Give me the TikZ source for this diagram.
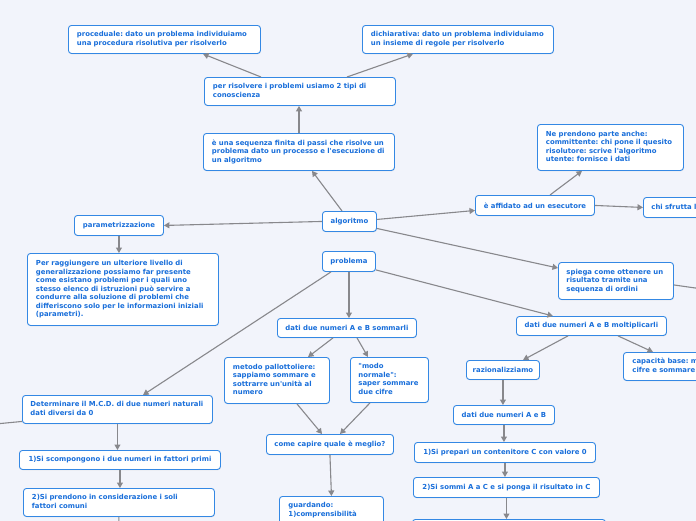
\documentclass[tikz,border=0pt]{standalone}
\usepackage{fontspec}
\newfontfamily\boxfont{DejaVu Sans}
\usetikzlibrary{arrows.meta,shadows}
\definecolor{bgc}{RGB}{242,244,251}
\definecolor{bordc}{RGB}{52,136,228}
\definecolor{txtc}{RGB}{24,110,218}
\definecolor{linec}{RGB}{136,136,140}
\newcommand\boxlines[1]{\begin{tabular}{@{}l@{}}#1\end{tabular}}
\tikzset{
  boxbase/.style={draw=bordc, fill=white, rounded corners=3pt, line width=0.9pt,
    text=txtc, font=\fontsize{6.9}{8.5}\selectfont\boxfont\bfseries\frenchspacing,
    drop shadow={opacity=0.15, shadow xshift=0.5pt, shadow yshift=-0.8pt},
    anchor=north west},
  lbox/.style={boxbase, inner xsep=8.5pt, inner ysep=2pt, align=left},
  cbox/.style={boxbase, inner xsep=3pt, inner ysep=2pt, align=center, minimum height=20pt},
  conn/.style={draw=linec, line width=1.1pt, -{Triangle[length=5.5pt,width=6pt]}}
}
\begin{document}
\begin{tikzpicture}[x=1pt,y=-1pt]
\useasboundingbox (0,0) rectangle (696,520);
\clip (0,0) rectangle (696,520);
\fill[bgc] (-5,-5) rectangle (701,525);

% nodes
\node[lbox, text width=175pt, minimum height=28pt] (proc) at (68,25)
  {\boxlines{proceduale: dato un problema individuiamo\\una procedura risolutiva per risolverlo}};
\node[lbox, text width=174pt, minimum height=28pt] (dich) at (362,25)
  {\boxlines{dichiarativa: dato un problema individuiamo\\un insieme di regole per risolverlo}};
\node[lbox, text width=174pt, minimum height=28pt] (perr) at (204,77)
  {\boxlines{per risolvere i problemi usiamo 2 tipi di\\conoscienza}};
\node[lbox, text width=174pt, minimum height=37pt] (seq) at (203,133)
  {\boxlines{è una sequenza finita di passi che risolve un\\problema dato un processo e l'esecuzione di\\un algoritmo}};
\node[cbox, minimum width=54pt] (alg) at (322,211) {algoritmo};
\node[cbox, minimum width=89pt] (param) at (74,215) {parametrizzazione};
\node[lbox, text width=174pt, minimum height=72pt] (perrag) at (27,253)
  {\boxlines{Per raggiungere un ulteriore livello di\\generalizzazione possiamo far presente\\come esistano problemi per i quali uno\\stesso elenco di istruzioni può servire a\\condurre alla soluzione di problemi che\\differiscono solo per le informazioni iniziali\\(parametri).}};
\node[lbox, text width=129pt, minimum height=46pt] (nepr) at (537,124)
  {\boxlines{Ne prendono parte anche:\\committente: chi pone il quesito\\risolutore: scrive l'algoritmo\\utente: fornisce i dati}};
\node[cbox, minimum width=119pt] (affid) at (475,195) {è affidato ad un esecutore};
\node[lbox, inner xsep=8pt, text width=120pt, minimum height=20pt] (chisfr) at (643,197)
  {\boxlines{chi sfrutta l}};
\node[cbox, minimum width=53pt] (probl) at (322,251) {problema};
\node[lbox, inner xsep=8pt, text width=99pt, minimum height=37pt] (spiega) at (558,262)
  {\boxlines{spiega come ottenere un\\risultato tramite una\\sequenza di ordini}};
\node[cbox, minimum width=139pt, minimum height=19pt] (somm) at (277,318) {dati due numeri A e B sommarli};
\node[cbox, minimum width=150pt, minimum height=19pt] (molt) at (516,316) {dati due numeri A e B moltiplicarli};
\node[lbox, text width=88pt, minimum height=46pt] (metodo) at (224,357)
  {\boxlines{metodo pallottoliere:\\sappiamo sommare e\\sottrarre un'unità al\\numero}};
\node[lbox, inner xsep=8pt, text width=62pt, minimum height=45pt] (modo) at (350,357)
  {\boxlines{"modo\\normale":\\saper sommare\\due cifre}};
\node[cbox, minimum width=73pt, minimum height=19pt] (raz) at (466,360) {razionalizziamo};
\node[lbox, inner xsep=9pt, text width=120pt, minimum height=28pt] (cap) at (623,352)
  {\boxlines{capacità base: m\\cifre e sommare}};
\node[lbox, inner xsep=8pt, text width=174pt, minimum height=28pt] (determ) at (22,395)
  {\boxlines{Determinare il M.C.D. di due numeri naturali\\dati diversi da 0}};
\node[cbox, minimum width=127pt] (come) at (266,434) {come capire quale è meglio?};
\node[cbox, minimum width=201pt, minimum height=19pt] (scomp) at (19,450) {1)Si scompongono i due numeri in fattori primi};
\node[cbox, minimum width=101pt, minimum height=19pt] (datiab) at (453,405) {dati due numeri A e B};
\node[cbox, minimum width=181pt] (prep) at (414,442) {1)Si prepari un contenitore C con valore 0};
\node[lbox, text width=174pt, minimum height=28pt] (prend) at (23,488)
  {\boxlines{2)Si prendono in considerazione i soli\\fattori comuni}};
\node[cbox, minimum width=186pt] (sommi) at (413,477) {2)Si sommi A a C e si ponga il risultato in C};
\node[lbox, inner xsep=9pt, text width=86pt, minimum height=28pt] (guard) at (279,496)
  {\boxlines{guardando:\\1)comprensibilità}};
\node[cbox, minimum width=193pt] (nxt) at (412,519) {};

\coordinate (offR) at (706,289.5);
\coordinate (offL) at (-10,424.5);
\coordinate (offB) at (118.5,535);

% connectors
\draw[conn] ([xshift=57pt]perr.north west) -- ([xshift=135pt]proc.south west);
\draw[conn] ([xshift=143pt]perr.north west) -- ([xshift=51pt]dich.south west);
\draw[conn] ([xshift=96pt]seq.north west) -- ([xshift=95pt]perr.south west);
\draw[conn] ([xshift=20pt]alg.north west) -- ([xshift=109pt]seq.south west);
\draw[conn] (alg.west) -- (param.east);
\draw[conn] ([yshift=2pt]alg.east) -- ([yshift=-5pt]affid.west);
\draw[conn] ([yshift=-7pt]alg.east) -- ([yshift=-6pt]spiega.north west);
\draw[conn] ([xshift=75pt]affid.north west) -- ([xshift=45pt]nepr.south west);
\draw[conn] (affid.east) -- (chisfr.west);
\draw[conn] (param.south) -- (param.south |- perrag.north);
\draw[conn] (probl.south) -- (probl.south |- somm.north);
\draw[conn] ([yshift=2pt]probl.south east) -- ([xshift=37pt]molt.north west);
\draw[conn] ([xshift=9pt]probl.south west) -- ([xshift=121pt]determ.north west);
\draw[conn] ([yshift=-4pt]spiega.east) -- (offR);
\draw[conn] ([xshift=56pt]somm.south west) -- ([xshift=84pt]metodo.north west);
\draw[conn] ([xshift=80pt]somm.south west) -- ([xshift=18pt]modo.north west);
\draw[conn] ([xshift=73pt]metodo.south west) -- ([xshift=56pt]come.north west);
\draw[conn] ([xshift=20pt]modo.south west) -- ([xshift=74pt]come.north west);
\draw[conn] (come.south) -- (guard.north);
\draw[conn] ([xshift=52pt]molt.south west) -- ([xshift=57pt]raz.north west);
\draw[conn] ([xshift=102pt]molt.south west) -- ([xshift=30pt]cap.north west);
\draw[conn] (raz.south) -- (raz.south |- datiab.north);
\draw[conn] (datiab.south) -- (datiab.south |- prep.north);
\draw[conn] (prep.south) -- (prep.south |- sommi.north);
\draw[conn] (sommi.south) -- (sommi.south |- nxt.north);
\draw[conn] (determ.south) -- (determ.south |- scomp.north);
\draw[conn] (scomp.south) -- (scomp.south |- prend.north);
\draw[conn] (prend.south) -- (offB);
\draw[conn] ([yshift=-12pt]determ.west) -- (offL);
\end{tikzpicture}
\end{document}
